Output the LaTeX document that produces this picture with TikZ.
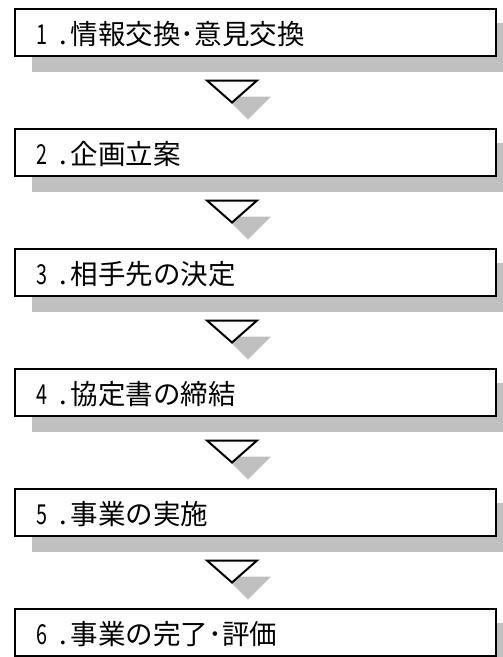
\documentclass[tikz,border=0pt]{standalone}
\usepackage{fontspec}
\newfontfamily\jp{Noto Sans CJK JP}
\definecolor{shadowgray}{HTML}{C0C0C0}
\begin{document}
\begin{tikzpicture}[x=1pt,y=-1pt,
  stepbox/.style={draw=black, line width=2pt, fill=white, rectangle,
    minimum width=481pt, minimum height=47.5pt, inner sep=0pt},
  boxshadow/.style={fill=shadowgray, draw=none},
  tri/.style={draw=black, line width=2pt, fill=white, line join=miter},
  steplabel/.style={anchor=base west, inner sep=0pt,
    font=\jp\fontsize{27.5}{27.5}\selectfont}]
\useasboundingbox (0,0) rectangle (503,657);
\clip (0,0) rectangle (503,657);
\foreach \k/\num/\txt in {0/1/情報交換･意見交換, 1/2/企画立案, 2/3/相手先の決定,
    3/4/協定書の締結, 4/5/事業の実施, 5/6/事業の完了･評価}{
  \pgfmathsetmacro{\yt}{8.5+120*\k}
  \fill[boxshadow] (32,\yt+14) rectangle (515,\yt+63);
  \node[stepbox] (box\k) at (255.5,\yt+23.75) {};
  \node[steplabel] (lab\k) at (36,\yt+36)
    {\makebox[23pt][l]{\scalebox{0.72}[1]{\num}}.\hspace{4pt}\txt};
}
\foreach \k in {0,...,4}{
  \pgfmathsetmacro{\ya}{80.5+120*\k}
  \coordinate (ta\k) at (207,\ya);
  \coordinate (tb\k) at (257,\ya);
  \coordinate (tc\k) at (232,\ya+22);
  \fill[shadowgray] (225,\ya+16) -- (271,\ya+16) -- (248,\ya+39) -- cycle;
  \draw[tri] (ta\k) -- (tb\k) -- (tc\k) -- cycle;
}
\end{tikzpicture}
\end{document}
